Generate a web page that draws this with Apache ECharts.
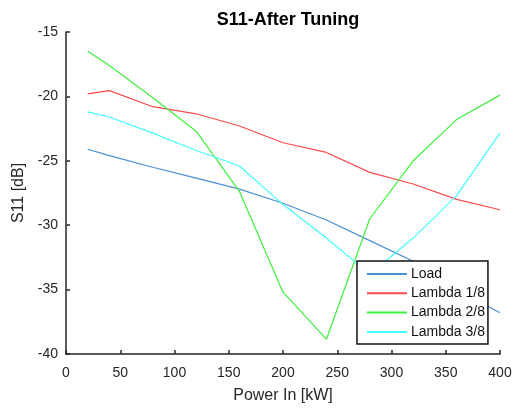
<!DOCTYPE html>
<html>
<head>
<meta charset="utf-8">
<script src="https://cdn.jsdelivr.net/npm/echarts@6/dist/echarts.min.js"></script>
<style>html,body{margin:0;padding:0;background:#fff}#c{width:515px;height:409px}</style>
</head>
<body>
<div id="c"></div>
<script>
const powerIn = [20, 40, 80, 120, 160, 200, 240, 280, 320, 360, 400];
const load = [-24.1, -24.6, -25.5, -26.35, -27.2, -28.3, -29.6, -31.2, -32.8, -35.0, -36.8];
const lambda18 = [-19.8, -19.55, -20.8, -21.35, -22.3, -23.6, -24.35, -25.9, -26.8, -28.0, -28.8];
const lambda28 = [-16.5, -17.6, -20.1, -22.7, -27.4, -35.2, -38.85, -29.5, -25.0, -21.8, -19.9];
const lambda38 = [-21.2, -21.6, -22.85, -24.2, -25.4, -28.4, -31.0, -33.8, -31.0, -27.7, -22.85];
const seriesNames = ['Load', 'Lambda 1/8', 'Lambda 2/8', 'Lambda 3/8'];
const seriesColors = ['#4a90d6', '#ff4a4a', '#3ef03e', '#44ffff'];
const xTicks = {min: 0, max: 400, interval: 50};
const yTicks = {min: -40, max: -15, interval: 5};

const allSeries = [load, lambda18, lambda28, lambda38];
const font = 'Liberation Sans, Arial, Helvetica, sans-serif';
const chart = echarts.init(document.getElementById('c'), null, {renderer: 'canvas'});
const axisCommon = {
  axisLine: {show: true, onZero: false, lineStyle: {color: '#262626', width: 1.5}},
  axisTick: {show: true, inside: true, length: 4, lineStyle: {color: '#262626', width: 1.5}},
  splitLine: {show: false},
  axisLabel: {color: '#262626', fontSize: 14, fontFamily: font},
  nameTextStyle: {color: '#262626', fontSize: 16, fontFamily: font}
};
chart.setOption({
  animation: false,
  backgroundColor: '#fff',
  title: {
    text: 'S11-After Tuning', left: 283, top: 6, textAlign: 'center',
    textStyle: {fontSize: 18, fontWeight: 'bold', color: '#000', fontFamily: font}
  },
  grid: {left: 66, right: 15, top: 32, bottom: 52, containLabel: false},
  xAxis: Object.assign({}, axisCommon, {
    type: 'value', min: xTicks.min, max: xTicks.max, interval: xTicks.interval,
    name: 'Power In [kW]', nameLocation: 'middle', nameGap: 34,
    axisLabel: Object.assign({}, axisCommon.axisLabel, {margin: 12})
  }),
  yAxis: Object.assign({}, axisCommon, {
    type: 'value', min: yTicks.min, max: yTicks.max, interval: yTicks.interval,
    name: 'S11 [dB]', nameLocation: 'middle', nameGap: 37, nameRotate: 90,
    axisLabel: Object.assign({}, axisCommon.axisLabel, {margin: 8, padding: [0, 0, 7, 0]})
  }),
  legend: {
    left: 357, top: 261, orient: 'vertical',
    data: seriesNames,
    itemWidth: 40, itemHeight: 14, itemGap: 5.3,
    padding: [6, 3, 5, 9],
    borderColor: '#111', borderWidth: 1.5, backgroundColor: '#fff',
    textStyle: {fontSize: 14, color: '#111', fontFamily: font, padding: [0, 0, 0, -1]},
    itemStyle: {opacity: 0}
  },
  series: allSeries.map((vals, i) => ({
    name: seriesNames[i], type: 'line', symbol: 'none',
    data: powerIn.map((x, j) => [x, vals[j]]),
    lineStyle: {color: seriesColors[i], width: 1.2},
    itemStyle: {color: seriesColors[i]}
  }))
});
</script>
</body>
</html>
